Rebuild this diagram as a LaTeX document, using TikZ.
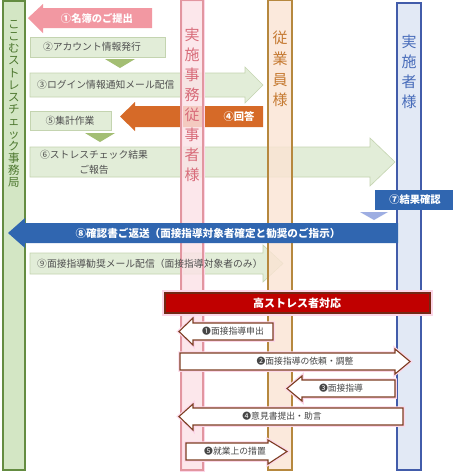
\documentclass[tikz,border=0pt]{standalone}
\usepackage{fontspec}
\setmainfont{Noto Sans CJK JP}
\definecolor{gcolfill}{RGB}{200,224,182}
\definecolor{gcolline}{RGB}{100,140,65}
\definecolor{gcoltxt}{RGB}{78,120,48}
\definecolor{gbox}{RGB}{226,237,216}
\definecolor{gboxline}{RGB}{196,212,176}
\definecolor{gtri}{RGB}{163,190,115}
\definecolor{labgray}{RGB}{80,80,80}
\definecolor{pinkarrow}{RGB}{242,152,162}
\definecolor{orangearrow}{RGB}{214,106,40}
\definecolor{bluearrow}{RGB}{48,102,176}
\definecolor{bluetri}{RGB}{158,174,226}
\definecolor{pcolfill}{RGB}{252,226,230}
\definecolor{pcolline}{RGB}{226,150,160}
\definecolor{pcoltxt}{RGB}{216,108,122}
\definecolor{tcolfill}{RGB}{251,228,212}
\definecolor{tcolline}{RGB}{182,136,62}
\definecolor{tcoltxt}{RGB}{197,122,50}
\definecolor{bcolfill}{RGB}{219,228,243}
\definecolor{bcolline}{RGB}{66,92,170}
\definecolor{bcoltxt}{RGB}{72,108,186}
\definecolor{barred}{RGB}{192,0,0}
\definecolor{barline}{RGB}{115,40,20}
\definecolor{wline}{RGB}{125,62,34}
\definecolor{glow}{RGB}{252,214,232}
\definecolor{dgray}{RGB}{70,70,70}
\tikzset{
  lab/.style={font=\fontsize{9.8}{12}\selectfont, text=labgray, inner sep=0pt},
  wlab/.style={font=\bfseries\fontsize{10.3}{12}\selectfont, text=white, inner sep=0pt},
  hlab/.style={font=\fontsize{8.8}{10}\selectfont, text=dgray, inner sep=0pt},
  garrow/.style={fill=gbox, draw=gboxline, line width=0.6pt},
  warrow/.style={fill=white, draw=wline, line width=1.1pt, preaction={draw=glow, line width=3.5pt}},
  tri/.style={fill=gtri},
  colbox/.style={fill opacity=0.8, line width=1.2pt},
  coltxt/.style={inner sep=0pt, align=center},
}
\begin{document}
\begin{tikzpicture}[x=1pt,y=-1pt]
\useasboundingbox (0,0) rectangle (455,472);
\fill[white] (0,0) rectangle (455,472);

% ---- green / orange / pink items under the columns
\draw[garrow] (30,73) -- (245,73) -- (245,67) -- (263,85) -- (245,103) -- (245,97) -- (30,97) -- cycle;
\fill[orangearrow] (120,116.5) -- (135,102) -- (135,106) -- (263,106) -- (263,127) -- (135,127) -- (135,131) -- cycle;
\draw[garrow] (30,147) -- (370,147) -- (370,138) -- (395,162) -- (370,186) -- (370,177) -- (30,177) -- cycle;
\draw[garrow] (30,253) -- (263,253) -- (263,245) -- (283,263.5) -- (263,282) -- (263,274) -- (30,274) -- cycle;
\fill[pinkarrow] (28,18) -- (43,4) -- (43,8) -- (152,8) -- (152,28) -- (43,28) -- (43,33) -- cycle;
\draw[garrow] (30,37) rectangle (165,57);
\draw[garrow] (30,111) rectangle (111,130);
\fill[tri] (105,59) -- (135,59) -- (120,68) -- cycle;
\fill[tri] (85,133) -- (115,133) -- (100,142) -- cycle;

% ---- columns
\draw[colbox, fill=gcolfill, draw=gcolline] (3,1) rectangle (25,470);
\draw[colbox, fill=pcolfill, draw=pcolline, preaction={draw=glow, line width=3pt}] (181,0) rectangle (203,470);
\draw[colbox, fill=tcolfill, draw=tcolline] (268,0) rectangle (292,470);
\draw[colbox, fill=bcolfill, draw=bcolline] (397,3) rectangle (421,470);

\node[coltxt, text=gcoltxt, font=\fontsize{11.5}{12.2}\selectfont] (colA) at (14,104)
  {こ\\こ\\む\\ス\\ト\\レ\\ス\\チ\\ェ\\ッ\\ク\\事\\務\\局};
\node[coltxt, text=pcoltxt, font=\fontsize{15}{20}\selectfont] (colB) at (192,105)
  {実\\施\\事\\務\\従\\事\\者\\様};
\node[coltxt, text=tcoltxt, font=\fontsize{15}{20.7}\selectfont] (colC) at (280,69)
  {従\\業\\員\\様};
\node[coltxt, text=bcoltxt, font=\fontsize{15}{20}\selectfont] (colD) at (409,72)
  {実\\施\\者\\様};

% ---- labels of the green items
\node[wlab] (s1) at (97,18) {①名簿のご提出};
\node[lab] (s2) at (92,47) {②アカウント情報発行};
\node[lab, anchor=west] (s3) at (37,85) {③ログイン情報通知メール配信};
\node[wlab] (s4) at (239,117) {④回答};
\node[lab] (s5) at (70,120.5) {⑤集計作業};
\node[lab, align=center, font=\fontsize{9.8}{15}\selectfont] (s6) at (94,162) {⑥ストレスチェック結果\\ご報告};
\node[lab, anchor=west] (s9) at (37,264) {⑨面接指導勧奨メール配信（面接指導対象者のみ）};

% ---- blue items
\fill[bluearrow] (8,233) -- (25,218) -- (25,223) -- (398,223) -- (398,243) -- (25,243) -- (25,248) -- cycle;
\node[wlab, font=\bfseries\fontsize{10.6}{12}\selectfont] (s8) at (208,233.5) {⑧確認書ご返送（面接指導対象者確定と勧奨のご指示）};
\fill[bluearrow] (375,190) rectangle (453,210);
\node[wlab] (s7) at (415,200) {⑦結果確認};
\fill[bluetri] (360,212) -- (388,212) -- (374,220) -- cycle;

% ---- high stress section
\draw[fill=barred, draw=barline, line width=1.5pt, preaction={draw=glow, line width=6pt}] (165,293) rectangle (430,313);
\node[wlab, font=\bfseries\fontsize{11}{12}\selectfont] (hs) at (297,303) {高ストレス者対応};

\draw[warrow] (179,331.5) -- (193,318) -- (193,323) -- (273,323) -- (273,340) -- (193,340) -- (193,345) -- cycle;
\node[hlab] (h1) at (233,331.5) {❶面接指導申出};
\draw[warrow] (180,353) -- (395,353) -- (395,349) -- (410,361.5) -- (395,374) -- (395,370) -- (180,370) -- cycle;
\node[hlab] (h2) at (305,361.5) {❷面接指導の依頼・調整};
\draw[warrow] (287,388.5) -- (302,376) -- (302,380) -- (395,380) -- (395,397) -- (302,397) -- (302,401) -- cycle;
\node[hlab] (h3) at (341,388.5) {❸面接指導};
\draw[warrow] (179,416.5) -- (193,404) -- (193,408) -- (403,408) -- (403,425) -- (193,425) -- (193,430) -- cycle;
\node[hlab] (h4) at (282,416.5) {❹意見書提出・助言};
\draw[warrow] (186,443) -- (268,443) -- (268,440) -- (287,451.5) -- (268,464) -- (268,460) -- (186,460) -- cycle;
\node[hlab] (h5) at (235,451.5) {❺就業上の措置};
\end{tikzpicture}
\end{document}
